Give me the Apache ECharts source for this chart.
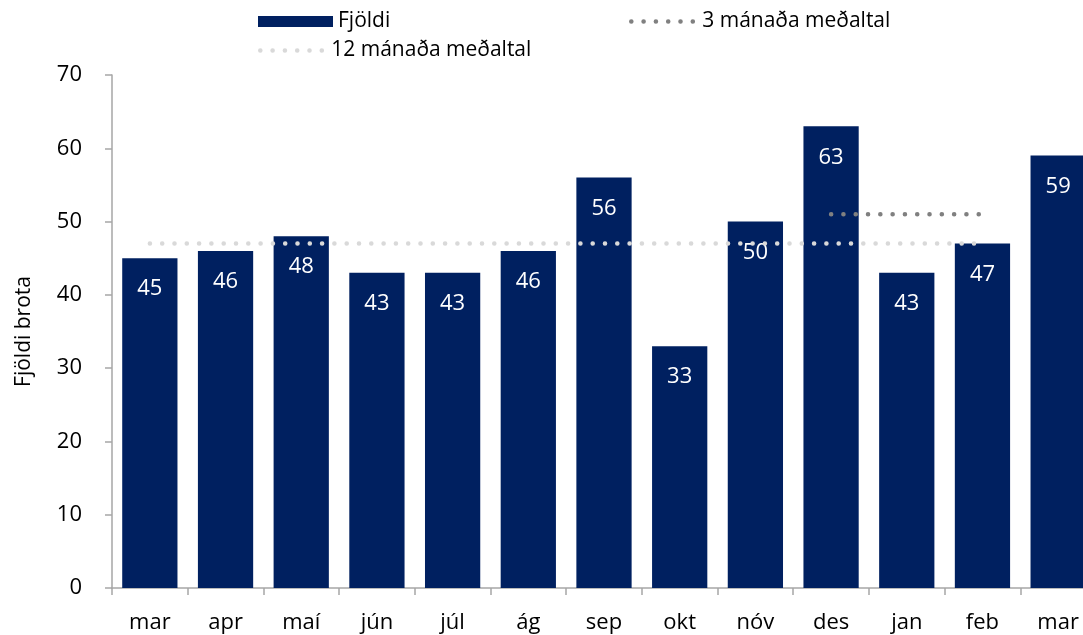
<!DOCTYPE html>
<html>
<head>
<meta charset="utf-8">
<script src="https://cdn.jsdelivr.net/npm/echarts@6/dist/echarts.min.js"></script>
<style>
  html, body { margin: 0; padding: 0; background: #fff; overflow: hidden; }
  #chart { width: 1096px; height: 635px; }
</style>
</head>
<body>
<div id="chart"></div>
<script>
const months = ['mar', 'apr', 'maí', 'jún', 'júl', 'ág', 'sep', 'okt', 'nóv', 'des', 'jan', 'feb', 'mar'];
const fjoldi = [45, 46, 48, 43, 43, 46, 56, 33, 50, 63, 43, 47, 59];
const avg3 = [null, null, null, null, null, null, null, null, null, 51, 51, 51, null];
const avg12 = [47, 47, 47, 47, 47, 47, 47, 47, 47, 47, 47, 47, null];

const font = '"Open Sans", sans-serif';
const chart = echarts.init(document.getElementById('chart'));

const dots = (color) => ({
    color: color,
    width: 4.5,
    type: [0.1, 12.2],
    cap: 'round'
});

const legendText = { fontSize: 21, color: '#000', fontFamily: font };

chart.setOption({
    animation: false,
    textStyle: { fontFamily: font },
    legend: [
        {
            data: ['Fjöldi'], left: 253, top: 6,
            icon: 'rect',
            itemWidth: 75, itemHeight: 11, itemGap: 4,
            textStyle: legendText
        },
        {
            data: ['3 mánaða meðaltal'], left: 624, top: 6,
            itemWidth: 66, itemHeight: 11,
            itemStyle: { opacity: 0 },
            lineStyle: dots('#808080'),
            textStyle: legendText
        },
        {
            data: ['12 mánaða meðaltal'], left: 253, top: 35,
            itemWidth: 66, itemHeight: 11,
            itemStyle: { opacity: 0 },
            lineStyle: dots('#d9d9d9'),
            textStyle: legendText
        }
    ],
    grid: { left: 112, right: 0, top: 75, bottom: 47 },
    xAxis: {
        type: 'category',
        data: months,
        axisLine: { lineStyle: { color: '#a6a6a6', width: 1.5 } },
        axisTick: { show: true, length: 7, lineStyle: { color: '#a6a6a6', width: 1.5 } },
        axisLabel: { fontSize: 22, color: '#000', margin: 24, fontFamily: font }
    },
    yAxis: {
        type: 'value',
        min: 0, max: 70, interval: 10,
        name: 'Fjöldi brota',
        nameLocation: 'middle',
        nameGap: 77,
        nameTextStyle: { fontSize: 21, color: '#000', fontFamily: font },
        splitLine: { show: false },
        axisLine: { show: true, lineStyle: { color: '#a6a6a6', width: 1.5 } },
        axisTick: { show: true, length: 7, lineStyle: { color: '#a6a6a6', width: 1.5 } },
        axisLabel: { fontSize: 22, color: '#000', margin: 30, fontFamily: font }
    },
    series: [
        {
            name: 'Fjöldi',
            type: 'bar',
            data: fjoldi,
            barCategoryGap: '27%',
            itemStyle: { color: '#002060' },
            label: {
                show: true, position: 'insideTop', distance: 20,
                color: '#fff', fontSize: 22, fontFamily: font
            },
            z: 1
        },
        {
            name: '3 mánaða meðaltal',
            type: 'line',
            data: avg3,
            symbol: 'none',
            lineStyle: dots('#808080'),
            itemStyle: { color: '#808080' },
            z: 3
        },
        {
            name: '12 mánaða meðaltal',
            type: 'line',
            data: avg12,
            symbol: 'none',
            lineStyle: dots('#d9d9d9'),
            itemStyle: { color: '#d9d9d9' },
            z: 3
        }
    ]
});

window.addEventListener('resize', () => chart.resize());
</script>
</body>
</html>
